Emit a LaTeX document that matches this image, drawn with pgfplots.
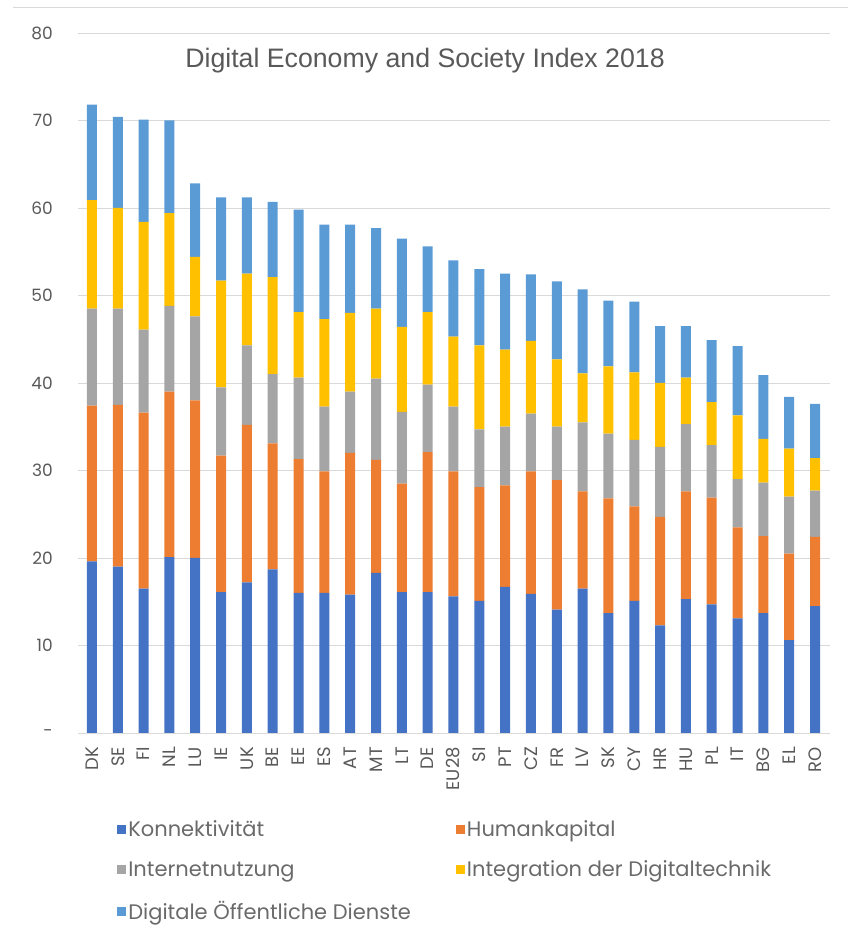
\documentclass[border=0pt]{standalone}
\usepackage{fontspec}
\setmainfont{Liberation Sans}
\newfontfamily\gothic{Poppins}
\usepackage{pgfplots}
\usepackage{pgfplotstable}
\pgfplotsset{compat=1.18}
\definecolor{cK}{HTML}{4472C4}
\definecolor{cH}{HTML}{ED7D31}
\definecolor{cI}{HTML}{A5A5A5}
\definecolor{cD}{HTML}{FFC000}
\definecolor{cO}{HTML}{5B9BD5}
\definecolor{txt}{HTML}{595959}
\definecolor{gridc}{HTML}{D9D9D9}

\pgfplotstableread{
x lab K H I D O
0 DK 19.6 17.8 11.1 12.4 10.9
1 SE 19.0 18.5 11.0 11.5 10.4
2 FI 16.5 20.1 9.5 12.3 11.7
3 NL 20.1 18.9 9.8 10.6 10.6
4 LU 20.0 18.0 9.6 6.8 8.4
5 IE 16.1 15.6 7.8 12.2 9.5
6 UK 17.2 18.0 9.1 8.2 8.7
7 BE 18.7 14.4 7.9 11.1 8.6
8 EE 16.0 15.3 9.3 7.5 11.7
9 ES 16.0 13.9 7.4 10.0 10.8
10 AT 15.8 16.2 7.0 9.0 10.1
11 MT 18.3 12.9 9.3 8.0 9.2
12 LT 16.1 12.4 8.2 9.7 10.1
13 DE 16.1 16.0 7.7 8.3 7.5
14 EU28 15.6 14.3 7.4 8.0 8.7
15 SI 15.1 13.0 6.6 9.6 8.7
16 PT 16.7 11.6 6.7 8.8 8.7
17 CZ 15.9 14.0 6.6 8.3 7.6
18 FR 14.1 14.8 6.1 7.7 8.9
19 LV 16.5 11.1 7.9 5.6 9.6
20 SK 13.7 13.1 7.4 7.7 7.5
21 CY 15.1 10.8 7.6 7.7 8.1
22 HR 12.3 12.4 8.0 7.3 6.5
23 HU 15.3 12.3 7.7 5.3 5.9
24 PL 14.7 12.2 6.0 4.9 7.1
25 IT 13.1 10.4 5.5 7.3 7.9
26 BG 13.7 8.8 6.1 5.0 7.3
27 EL 10.6 9.9 6.5 5.5 5.9
28 RO 14.5 7.9 5.3 3.7 6.2
}\data

\begin{document}
\begin{tikzpicture}
\useasboundingbox (0pt,0pt) rectangle (848pt,934pt);
\draw[gridc, line width=1pt] (13pt,926pt) -- (848pt,926pt);
\begin{axis}[
  at={(78pt,201pt)}, anchor=south west,
  scale only axis, width=752pt, height=700pt,
  ybar stacked, bar width=10pt,
  xmin=-0.54, xmax=28.58, ymin=0, ymax=80,
  xtick=data, xticklabels from table={\data}{lab},
  ytick={0,10,...,80}, yticklabels={-,10,20,30,40,50,60,70,80},
  ymajorgrids, grid style={gridc, line width=0.8pt},
  axis line style={draw=none},
  major tick length=0pt,
  /pgf/number format/assume math mode=true,
  xticklabel style={rotate=90, anchor=east, inner sep=0pt, xshift=-14pt,
    font=\gothic\fontsize{18}{18}\selectfont, text=txt},
  yticklabel style={anchor=east, inner sep=0pt, xshift=-25pt,
    font=\gothic\fontsize{17}{17}\selectfont, text=txt},
  legend image code/.code={\fill[#1] (0pt,-4.5pt) rectangle (9pt,4.5pt);},
  legend columns=2, legend cell align=left,
  legend style={at={(0.048,-0.119)}, anchor=north west, draw=none, fill=none,
    font=\gothic\fontsize{21}{21}\selectfont, text=txt!90, row sep=19pt,
    /tikz/every even column/.append style={column sep=43pt}},
]
\addplot[fill=cK, draw=none] table[x=x, y=K]{\data};
\addplot[fill=cH, draw=none] table[x=x, y=H]{\data};
\addplot[fill=cI, draw=none] table[x=x, y=I]{\data};
\addplot[fill=cD, draw=none] table[x=x, y=D]{\data};
\addplot[fill=cO, draw=none] table[x=x, y=O]{\data};
\legend{Konnektivität, Humankapital, Internetnutzung, Integration der Digitaltechnik, Digitale Öffentliche Dienste}
\end{axis}
\node[anchor=base, text=txt, font=\fontsize{26.7}{30}\selectfont] at (425pt,866.3pt) {Digital Economy and Society Index 2018};
\end{tikzpicture}
\end{document}
